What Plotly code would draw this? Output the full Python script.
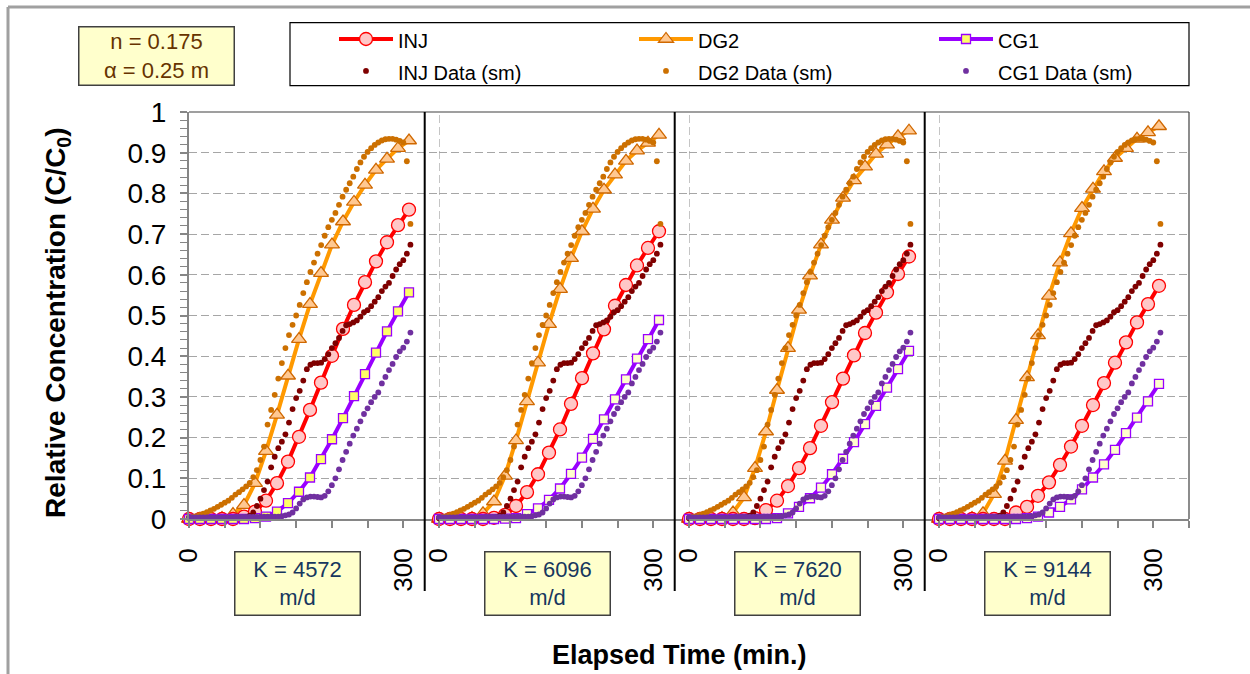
import plotly.graph_objects as go

# ---------------------------------------------------------------------------
# Data
# ---------------------------------------------------------------------------
# Elapsed time of the model output points (min)
t_model = [0, 15.4, 30.8, 46.2, 61.6, 77.0, 92.4, 107.8, 123.2, 138.6, 154.0,
           169.4, 184.8, 200.2, 215.6, 231.0, 246.4, 261.8, 277.2, 292.6, 308.0]

# Elapsed time of the smoothed field data (min)
t_data = list(range(0, 315, 5))

# Hydraulic conductivity of each panel (m/d)
k_values = [4572, 6096, 7620, 9144]

# Smoothed observations (same in every panel)
inj_data = [0.002, 0.002, 0.002, 0.002, 0.002, 0.002, 0.002, 0.002, 0.002, 0.002,
            0.002, 0.002, 0.002, 0.002, 0.002, 0.002, 0.004, 0.008, 0.016, 0.032,
            0.050, 0.071, 0.092, 0.127, 0.153, 0.174, 0.190, 0.208, 0.237, 0.270,
            0.297, 0.315, 0.340, 0.368, 0.379, 0.383, 0.383, 0.384, 0.393, 0.405,
            0.420, 0.432, 0.445, 0.462, 0.476, 0.479, 0.483, 0.488, 0.497, 0.508,
            0.513, 0.523, 0.534, 0.545, 0.560, 0.571, 0.580, 0.597, 0.613, 0.626,
            0.636, 0.652, 0.674]
dg2_data = [0.003, 0.005, 0.007, 0.010, 0.013, 0.017, 0.021, 0.025, 0.030, 0.035,
            0.040, 0.045, 0.052, 0.060, 0.066, 0.073, 0.080, 0.089, 0.103, 0.120,
            0.145, 0.178, 0.232, 0.268, 0.305, 0.345, 0.383, 0.420, 0.452, 0.477,
            0.500, 0.526, 0.555, 0.582, 0.607, 0.630, 0.652, 0.673, 0.696, 0.717,
            0.735, 0.752, 0.772, 0.792, 0.809, 0.825, 0.841, 0.860, 0.876, 0.890,
            0.902, 0.911, 0.919, 0.925, 0.930, 0.933, 0.934, 0.934, 0.932, 0.929,
            0.925, 0.879, 0.725]
cg1_data = [0.004, 0.004, 0.004, 0.004, 0.004, 0.004, 0.004, 0.004, 0.004, 0.004,
            0.004, 0.004, 0.004, 0.005, 0.005, 0.005, 0.005, 0.005, 0.005, 0.005,
            0.005, 0.006, 0.006, 0.006, 0.006, 0.006, 0.007, 0.009, 0.011, 0.016,
            0.026, 0.038, 0.048, 0.053, 0.055, 0.055, 0.054, 0.053, 0.057, 0.068,
            0.083, 0.100, 0.122, 0.145, 0.165, 0.185, 0.205, 0.222, 0.240, 0.258,
            0.272, 0.287, 0.300, 0.311, 0.333, 0.349, 0.366, 0.381, 0.398, 0.412,
            0.421, 0.436, 0.458]

# Model results, one list per K value
inj_k4572 = [0, 0, 0, 0, 0, 0.006, 0.018, 0.045, 0.088, 0.141, 0.202,
             0.268, 0.335, 0.401, 0.467, 0.526, 0.582, 0.633, 0.680, 0.722, 0.760]
dg2_k4572 = [0, 0, 0, 0.002, 0.012, 0.034, 0.088, 0.167, 0.256, 0.352, 0.442,
             0.528, 0.604, 0.674, 0.731, 0.779, 0.821, 0.858, 0.885, 0.911, 0.930]
cg1_k4572 = [0, 0, 0, 0, 0, 0, 0.002, 0.006, 0.018, 0.039, 0.067,
             0.102, 0.147, 0.196, 0.248, 0.302, 0.356, 0.409, 0.461, 0.510, 0.557]

inj_k6096 = [0, 0, 0, 0, 0, 0.003, 0.010, 0.032, 0.066, 0.110, 0.163,
             0.220, 0.283, 0.346, 0.407, 0.466, 0.524, 0.575, 0.623, 0.666, 0.707]
dg2_k6096 = [0, 0, 0, 0.002, 0.014, 0.043, 0.106, 0.193, 0.289, 0.384, 0.479,
             0.565, 0.641, 0.707, 0.762, 0.809, 0.846, 0.880, 0.905, 0.924, 0.944]
cg1_k6096 = [0, 0, 0, 0, 0, 0, 0.001, 0.002, 0.012, 0.026, 0.047,
             0.075, 0.111, 0.151, 0.197, 0.245, 0.294, 0.343, 0.394, 0.442, 0.489]

inj_k7620 = [0, 0, 0, 0, 0, 0, 0.002, 0.022, 0.045, 0.081, 0.125,
             0.174, 0.229, 0.287, 0.345, 0.402, 0.457, 0.507, 0.557, 0.602, 0.645]
dg2_k7620 = [0, 0, 0, 0.002, 0.016, 0.053, 0.125, 0.215, 0.317, 0.420, 0.514,
             0.598, 0.674, 0.735, 0.789, 0.832, 0.866, 0.897, 0.920, 0.940, 0.954]
cg1_k7620 = [0, 0, 0, 0, 0, 0, 0, 0, 0.002, 0.014, 0.030,
             0.051, 0.077, 0.110, 0.148, 0.189, 0.233, 0.278, 0.323, 0.368, 0.413]

inj_k9144 = [0, 0, 0, 0, 0, 0, 0, 0.016, 0.030, 0.057, 0.090,
             0.133, 0.178, 0.229, 0.280, 0.334, 0.384, 0.434, 0.483, 0.528, 0.573]
dg2_k9144 = [0, 0, 0, 0.002, 0.014, 0.061, 0.143, 0.243, 0.348, 0.451, 0.548,
             0.630, 0.702, 0.764, 0.811, 0.854, 0.887, 0.911, 0.934, 0.950, 0.965]
cg1_k9144 = [0, 0, 0, 0, 0, 0, 0, 0, 0.002, 0.006, 0.016,
             0.030, 0.048, 0.073, 0.102, 0.134, 0.170, 0.211, 0.249, 0.289, 0.332]

inj_model = [inj_k4572, inj_k6096, inj_k7620, inj_k9144]
dg2_model = [dg2_k4572, dg2_k6096, dg2_k7620, dg2_k9144]
cg1_model = [cg1_k4572, cg1_k6096, cg1_k7620, cg1_k9144]

# Labelled time ticks per panel (unlabelled ticks every 50 min)
x_tickvals = [0, 300]
x_ticktext = ["0", "300"]

# ---------------------------------------------------------------------------
# Styling
# ---------------------------------------------------------------------------
FONT = "Arial, Liberation Sans, sans-serif"
LEG_TXT = '<span style="font-size:20px">{}</span>'
CG1_FILL = ["#FFFF66", "#FFFFCC", "#FFFFCC", "#FFFFCC"]
AXIS_GRAY = "#868686"
GRID_GRAY = "#A6A6A6"

fig = go.Figure()

for i, k in enumerate(k_values):
    xa = "x" if i == 0 else f"x{i + 1}"
    first = i == 0

    # Model curves
    fig.add_trace(go.Scatter(
        x=t_model, y=dg2_model[i], xaxis=xa, yaxis="y", mode="lines+markers",
        name=LEG_TXT.format("DG2"), legendrank=2, showlegend=first,
        line=dict(color="#FF9900", width=4),
        marker=dict(symbol="triangle-up", size=13, color="#FFC891",
                    line=dict(color="#D06800", width=1.3)),
        cliponaxis=False))
    fig.add_trace(go.Scatter(
        x=t_model, y=inj_model[i], xaxis=xa, yaxis="y", mode="lines+markers",
        name=LEG_TXT.format("INJ"), legendrank=1, showlegend=first,
        line=dict(color="#FF0000", width=4),
        marker=dict(symbol="circle", size=13, color="#FFC7C7",
                    line=dict(color="#FF0000", width=1.3)),
        cliponaxis=False))
    fig.add_trace(go.Scatter(
        x=t_model, y=cg1_model[i], xaxis=xa, yaxis="y", mode="lines+markers",
        name=LEG_TXT.format("CG1"), legendrank=3, showlegend=first,
        line=dict(color="#9900FF", width=4),
        marker=dict(symbol="square", size=9, color=CG1_FILL[i],
                    line=dict(color="#9900FF", width=1.3)),
        cliponaxis=False))

    # Smoothed observations
    fig.add_trace(go.Scatter(
        x=t_data, y=dg2_data, xaxis=xa, yaxis="y", mode="markers",
        name=LEG_TXT.format("DG2 Data (sm)"), legendrank=5, showlegend=first,
        marker=dict(size=5.8, color="#CC7000"), cliponaxis=False))
    fig.add_trace(go.Scatter(
        x=t_data, y=inj_data, xaxis=xa, yaxis="y", mode="markers",
        name=LEG_TXT.format("INJ Data (sm)"), legendrank=4, showlegend=first,
        marker=dict(size=5.8, color="#7F0000"), cliponaxis=False))
    fig.add_trace(go.Scatter(
        x=t_data, y=cg1_data, xaxis=xa, yaxis="y", mode="markers",
        name=LEG_TXT.format("CG1 Data (sm)"), legendrank=6, showlegend=first,
        marker=dict(size=5.8, color="#7030A0"), cliponaxis=False))

# ---------------------------------------------------------------------------
# Axes
# ---------------------------------------------------------------------------
layout_axes = {}
for i in range(4):
    key = "xaxis" if i == 0 else f"xaxis{i + 1}"
    layout_axes[key] = dict(
        domain=[i * 0.25, (i + 1) * 0.25], range=[0, 350], anchor="y",
        tickmode="array", tickvals=x_tickvals, ticktext=x_ticktext,
        tickangle=-90, ticks="outside", ticklen=7, tickwidth=1.5,
        tickcolor=AXIS_GRAY,
        minor=dict(tick0=0, dtick=50, ticks="outside", ticklen=7,
                   tickwidth=1.5, tickcolor=AXIS_GRAY, showgrid=False),
        showline=True, linecolor=AXIS_GRAY, linewidth=2,
        showgrid=False, zeroline=False, ticklabelstandoff=10,
        tickfont=dict(family=FONT, size=26, color="black"))

layout_axes["yaxis"] = dict(
    domain=[0, 1], range=[0, 1], anchor="x", dtick=0.1, tick0=0,
    ticks="outside", ticklen=7, tickwidth=1.5, tickcolor=AXIS_GRAY,
    minor=dict(dtick=0.02, ticks="outside", ticklen=7, tickwidth=1.2,
               tickcolor=AXIS_GRAY, showgrid=False),
    showline=True, linecolor=AXIS_GRAY, linewidth=2,
    showgrid=True, gridcolor=GRID_GRAY, gridwidth=1.3, griddash="8px,4px",
    zeroline=False, ticklabelstandoff=8,
    tickfont=dict(family=FONT, size=28, color="black"))

# ---------------------------------------------------------------------------
# Frames, dividers and labels
# ---------------------------------------------------------------------------
shapes = [
    # outer chart frame (left and top edges)
    dict(type="line", xref="paper", yref="paper", x0=-0.181, x1=-0.181,
         y0=-0.45, y1=1.258, line=dict(color="#A0A0A0", width=3)),
    dict(type="line", xref="paper", yref="paper", x0=-0.181, x1=1.08,
         y0=1.258, y1=1.258, line=dict(color="#A0A0A0", width=3)),
    # plot-area border (top and right)
    dict(type="line", xref="paper", yref="paper", x0=0, x1=1, y0=1, y1=1,
         line=dict(color="#404040", width=1.2)),
    dict(type="line", xref="paper", yref="paper", x0=1, x1=1, y0=0, y1=1,
         line=dict(color="#404040", width=1.2)),
    # legend frame
    dict(type="rect", xref="paper", yref="paper", x0=0.101, x1=1.0,
         y0=1.0646, y1=1.2194, line=dict(color="black", width=1.2),
         fillcolor="white", layer="below"),
]
for i in range(1, 4):
    xa = f"x{i + 1}"
    # dashed line at the start of each later panel
    shapes.append(dict(type="line", xref=xa, yref="paper", x0=0, x1=0,
                       y0=0, y1=1, line=dict(color=GRID_GRAY, width=1.3,
                                             dash="8px,4px"),
                       layer="below"))
for i in range(3):
    xa = "x" if i == 0 else f"x{i + 1}"
    # solid separator between panels
    shapes.append(dict(type="line", xref=xa, yref="paper", x0=330, x1=330,
                       y0=-0.177, y1=1, line=dict(color="black", width=2)))

annotations = [
    dict(text="n = 0.175<br>α = 0.25 m", xref="paper", yref="paper",
         x=-0.033, y=1.1369, xanchor="center", yanchor="middle",
         showarrow=False, width=154, height=57, align="center",
         bgcolor="#FFFFCC", bordercolor="#404040", borderwidth=1.5,
         borderpad=0, font=dict(family=FONT, size=22, color="#663300")),
    dict(text="<b>Elapsed Time (min.)</b>", xref="paper", yref="paper",
         x=0.49, y=-0.334, xanchor="center", yanchor="middle",
         showarrow=False, font=dict(family=FONT, size=27, color="black")),
    dict(text="<b>Relative Concentration (C/C<sub>0</sub>)</b>",
         xref="paper", yref="paper", x=-0.1315, y=0.483, xanchor="center",
         yanchor="middle", textangle=-90, showarrow=False,
         font=dict(family=FONT, size=28, color="black")),
]
for i, k in enumerate(k_values):
    xa = "x" if i == 0 else f"x{i + 1}"
    annotations.append(dict(
        text=f"K = {k}<br>m/d", xref=xa, yref="paper", x=152, y=-0.158,
        xanchor="center", yanchor="middle", showarrow=False, width=124,
        height=62, align="center", bgcolor="#FFFFCC", bordercolor="#404040",
        borderwidth=1.5, borderpad=0,
        font=dict(family=FONT, size=22, color="#17375E")))

fig.update_layout(
    width=1250, height=674,
    margin=dict(l=189, r=61, t=112, b=155, autoexpand=False),
    paper_bgcolor="white", plot_bgcolor="white",
    font=dict(family=FONT, color="black"),
    showlegend=True,
    legend=dict(orientation="h", x=0.145, xanchor="left", y=1.231,
                yanchor="top", bgcolor="rgba(0,0,0,0)", borderwidth=0,
                font=dict(family=FONT, size=22.3, color="black"),
                itemwidth=54, entrywidth=231, entrywidthmode="pixels",
                traceorder="normal"),
    shapes=shapes, annotations=annotations,
    **layout_axes,
)

fig.write_html("out.html")
